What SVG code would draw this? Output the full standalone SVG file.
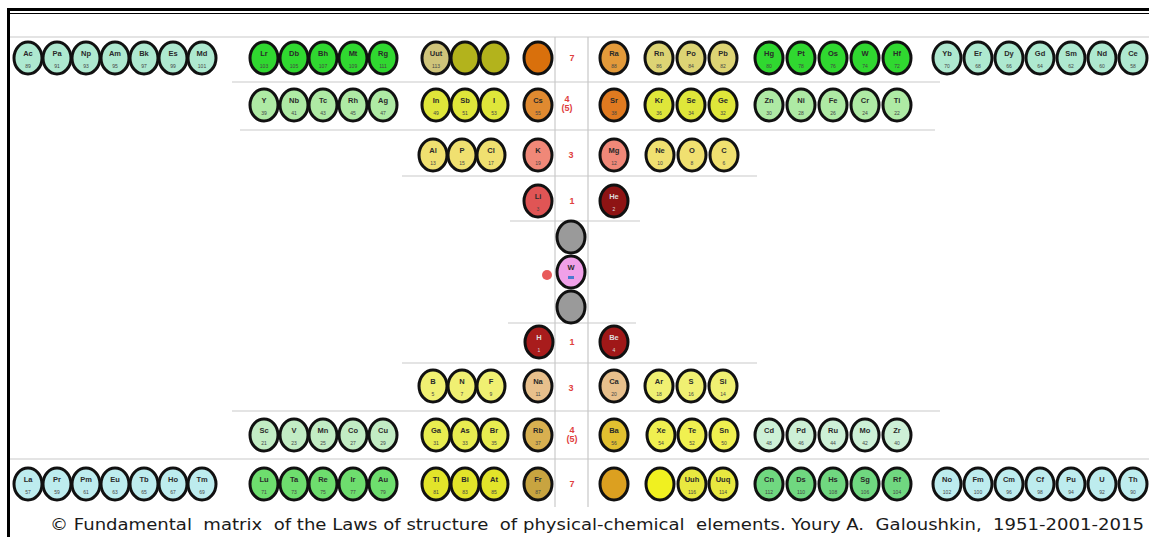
<svg xmlns="http://www.w3.org/2000/svg" width="1149" height="537" viewBox="0 0 1149 537">
<style>
.el ellipse{stroke:#111;stroke-width:3}
.el text{font-family:"Liberation Sans",Arial,sans-serif;font-size:7.5px;font-weight:bold;text-anchor:middle;fill:#2a2a2a}
.el text.z{font-size:5px;font-weight:normal;fill:#444}
.grid line{stroke:#cacaca;stroke-width:1.2}
.vl{stroke:#d8c8d0;stroke-width:1.2}
.num{font-family:"Liberation Sans",Arial,sans-serif;font-size:9px;font-weight:bold;fill:#e04040;text-anchor:middle}
.mint ellipse{fill:#aee9d0}
.grn ellipse{fill:#30d830}
.olv ellipse{fill:#b3b31c}
.olvl ellipse{fill:#cfc47a}
.org ellipse{fill:#d9700c}
.ra ellipse{fill:#e39a3a}
.khk ellipse{fill:#ddd474}
.lg2 ellipse{fill:#aeeaa4}
.lim ellipse{fill:#dfe63a}
.cs ellipse{fill:#e08a30}
.sr ellipse{fill:#e07a20}
.yl3 ellipse{fill:#f0e070}
.sal ellipse{fill:#f08878}
.red ellipse{fill:#e05555}
.dred ellipse{fill:#8e1414}
.gry ellipse{fill:#9a9a9a}
.pnk ellipse{fill:#f0a0e8}
.tan ellipse{fill:#e8c08c}
.yl4 ellipse{fill:#f0f072}
.pg ellipse{fill:#c2ecc4}
.yl5 ellipse{fill:#e8ec50}
.rb ellipse{fill:#d8b050}
.ba ellipse{fill:#e2c030}
.yl6 ellipse{fill:#f0f050}
.pg2 ellipse{fill:#cdf0d6}
.cyn ellipse{fill:#bdecee}
.mg ellipse{fill:#6ede6e}
.yl7 ellipse{fill:#e2e42a}
.fr ellipse{fill:#c8a440}
.gold ellipse{fill:#dca020}
.yl8 ellipse{fill:#f0f020}
.yl9 ellipse{fill:#e8e840}
.mg2 ellipse{fill:#70d880}
.cap{font-family:"DejaVu Sans",Verdana,sans-serif;font-size:15px;fill:#1a1a1a}
</style>
<rect x="0" y="0" width="1149" height="537" fill="#ffffff"/>
<g id="frame">
<line x1="8" y1="9.5" x2="1149" y2="9.5" stroke="#000" stroke-width="3"/>
<line x1="8" y1="13.5" x2="1149" y2="13.5" stroke="#000" stroke-width="1"/>
<line x1="8.5" y1="8" x2="8.5" y2="537" stroke="#000" stroke-width="3"/>
</g>
<g id="connectors" class="grid">
<line x1="10" y1="37" x2="1149" y2="37"/>
<line x1="232" y1="82" x2="940" y2="82"/>
<line x1="240" y1="130" x2="935" y2="130"/>
<line x1="402" y1="176" x2="757" y2="176"/>
<line x1="510" y1="221" x2="640" y2="221"/>
<line x1="508" y1="323" x2="636" y2="323"/>
<line x1="402" y1="363" x2="757" y2="363"/>
<line x1="232" y1="411" x2="940" y2="411"/>
<line x1="10" y1="459" x2="1149" y2="459"/>
<line class="vl" x1="555" y1="37" x2="555" y2="507"/>
<line class="vl" x1="588" y1="37" x2="588" y2="507" style="stroke:#c8c8c8"/>
</g>
<g id="labels">
<text class="num" x="572" y="61">7</text>
<text class="num" x="567" y="102">4</text>
<text class="num" x="567" y="111">(5)</text>
<text class="num" x="571" y="158">3</text>
<text class="num" x="572" y="204">1</text>
<circle cx="547" cy="275" r="5" fill="#e85a5a"/>
<text class="num" x="572" y="345">1</text>
<text class="num" x="571" y="391">3</text>
<text class="num" x="572" y="433">4</text>
<text class="num" x="572" y="442">(5)</text>
<text class="num" x="572" y="487">7</text>
</g>
<g id="e-Ac" class="el mint" transform="translate(28,58)"><ellipse rx="14" ry="16"/><text y="-2">Ac</text><text class="z" y="10">89</text></g>
<g id="e-Pa" class="el mint" transform="translate(57,58)"><ellipse rx="14" ry="16"/><text y="-2">Pa</text><text class="z" y="10">91</text></g>
<g id="e-Np" class="el mint" transform="translate(86,58)"><ellipse rx="14" ry="16"/><text y="-2">Np</text><text class="z" y="10">93</text></g>
<g id="e-Am" class="el mint" transform="translate(115,58)"><ellipse rx="14" ry="16"/><text y="-2">Am</text><text class="z" y="10">95</text></g>
<g id="e-Bk" class="el mint" transform="translate(144,58)"><ellipse rx="14" ry="16"/><text y="-2">Bk</text><text class="z" y="10">97</text></g>
<g id="e-Es" class="el mint" transform="translate(173,58)"><ellipse rx="14" ry="16"/><text y="-2">Es</text><text class="z" y="10">99</text></g>
<g id="e-Md" class="el mint" transform="translate(202,58)"><ellipse rx="14" ry="16"/><text y="-2">Md</text><text class="z" y="10">101</text></g>
<g id="e-Lr" class="el grn" transform="translate(264,58)"><ellipse rx="14" ry="16"/><text y="-2">Lr</text><text class="z" y="10">103</text></g>
<g id="e-Db" class="el grn" transform="translate(294,58)"><ellipse rx="14" ry="16"/><text y="-2">Db</text><text class="z" y="10">105</text></g>
<g id="e-Bh" class="el grn" transform="translate(323,58)"><ellipse rx="14" ry="16"/><text y="-2">Bh</text><text class="z" y="10">107</text></g>
<g id="e-Mt" class="el grn" transform="translate(353,58)"><ellipse rx="14" ry="16"/><text y="-2">Mt</text><text class="z" y="10">109</text></g>
<g id="e-Rg" class="el grn" transform="translate(383,58)"><ellipse rx="14" ry="16"/><text y="-2">Rg</text><text class="z" y="10">111</text></g>
<g id="e-Uut" class="el olvl" transform="translate(436,58)"><ellipse rx="14" ry="16"/><text y="-2">Uut</text><text class="z" y="10">113</text></g>
<g id="e-115" class="el olv" transform="translate(465,58)"><ellipse rx="14" ry="16"/></g>
<g id="e-117" class="el olv" transform="translate(494,58)"><ellipse rx="14" ry="16"/></g>
<g id="e-119" class="el org" transform="translate(538,58)"><ellipse rx="14" ry="16"/></g>
<g id="e-Ra" class="el ra" transform="translate(614,58)"><ellipse rx="14" ry="16"/><text y="-2">Ra</text><text class="z" y="10">88</text></g>
<g id="e-Rn" class="el khk" transform="translate(659,58)"><ellipse rx="14" ry="16"/><text y="-2">Rn</text><text class="z" y="10">86</text></g>
<g id="e-Po" class="el khk" transform="translate(691,58)"><ellipse rx="14" ry="16"/><text y="-2">Po</text><text class="z" y="10">84</text></g>
<g id="e-Pb" class="el khk" transform="translate(723,58)"><ellipse rx="14" ry="16"/><text y="-2">Pb</text><text class="z" y="10">82</text></g>
<g id="e-Hg" class="el grn" transform="translate(769,58)"><ellipse rx="14" ry="16"/><text y="-2">Hg</text><text class="z" y="10">80</text></g>
<g id="e-Pt" class="el grn" transform="translate(801,58)"><ellipse rx="14" ry="16"/><text y="-2">Pt</text><text class="z" y="10">78</text></g>
<g id="e-Os" class="el grn" transform="translate(833,58)"><ellipse rx="14" ry="16"/><text y="-2">Os</text><text class="z" y="10">76</text></g>
<g id="e-W74" class="el grn" transform="translate(865,58)"><ellipse rx="14" ry="16"/><text y="-2">W</text><text class="z" y="10">74</text></g>
<g id="e-Hf" class="el grn" transform="translate(897,58)"><ellipse rx="14" ry="16"/><text y="-2">Hf</text><text class="z" y="10">72</text></g>
<g id="e-Yb" class="el mint" transform="translate(947,58)"><ellipse rx="14" ry="16"/><text y="-2">Yb</text><text class="z" y="10">70</text></g>
<g id="e-Er" class="el mint" transform="translate(978,58)"><ellipse rx="14" ry="16"/><text y="-2">Er</text><text class="z" y="10">68</text></g>
<g id="e-Dy" class="el mint" transform="translate(1009,58)"><ellipse rx="14" ry="16"/><text y="-2">Dy</text><text class="z" y="10">66</text></g>
<g id="e-Gd" class="el mint" transform="translate(1040,58)"><ellipse rx="14" ry="16"/><text y="-2">Gd</text><text class="z" y="10">64</text></g>
<g id="e-Sm" class="el mint" transform="translate(1071,58)"><ellipse rx="14" ry="16"/><text y="-2">Sm</text><text class="z" y="10">62</text></g>
<g id="e-Nd" class="el mint" transform="translate(1102,58)"><ellipse rx="14" ry="16"/><text y="-2">Nd</text><text class="z" y="10">60</text></g>
<g id="e-Ce" class="el mint" transform="translate(1133,58)"><ellipse rx="14" ry="16"/><text y="-2">Ce</text><text class="z" y="10">58</text></g>
<g id="e-Y" class="el lg2" transform="translate(264,105)"><ellipse rx="14" ry="16"/><text y="-2">Y</text><text class="z" y="10">39</text></g>
<g id="e-Nb" class="el lg2" transform="translate(294,105)"><ellipse rx="14" ry="16"/><text y="-2">Nb</text><text class="z" y="10">41</text></g>
<g id="e-Tc" class="el lg2" transform="translate(323,105)"><ellipse rx="14" ry="16"/><text y="-2">Tc</text><text class="z" y="10">43</text></g>
<g id="e-Rh" class="el lg2" transform="translate(353,105)"><ellipse rx="14" ry="16"/><text y="-2">Rh</text><text class="z" y="10">45</text></g>
<g id="e-Ag" class="el lg2" transform="translate(383,105)"><ellipse rx="14" ry="16"/><text y="-2">Ag</text><text class="z" y="10">47</text></g>
<g id="e-In" class="el lim" transform="translate(436,105)"><ellipse rx="14" ry="16"/><text y="-2">In</text><text class="z" y="10">49</text></g>
<g id="e-Sb" class="el lim" transform="translate(465,105)"><ellipse rx="14" ry="16"/><text y="-2">Sb</text><text class="z" y="10">51</text></g>
<g id="e-I" class="el lim" transform="translate(494,105)"><ellipse rx="14" ry="16"/><text y="-2">I</text><text class="z" y="10">53</text></g>
<g id="e-Cs" class="el cs" transform="translate(538,105)"><ellipse rx="14" ry="16"/><text y="-2">Cs</text><text class="z" y="10">55</text></g>
<g id="e-Sr" class="el sr" transform="translate(614,105)"><ellipse rx="14" ry="16"/><text y="-2">Sr</text><text class="z" y="10">38</text></g>
<g id="e-Kr" class="el lim" transform="translate(659,105)"><ellipse rx="14" ry="16"/><text y="-2">Kr</text><text class="z" y="10">36</text></g>
<g id="e-Se" class="el lim" transform="translate(691,105)"><ellipse rx="14" ry="16"/><text y="-2">Se</text><text class="z" y="10">34</text></g>
<g id="e-Ge" class="el lim" transform="translate(723,105)"><ellipse rx="14" ry="16"/><text y="-2">Ge</text><text class="z" y="10">32</text></g>
<g id="e-Zn" class="el lg2" transform="translate(769,105)"><ellipse rx="14" ry="16"/><text y="-2">Zn</text><text class="z" y="10">30</text></g>
<g id="e-Ni" class="el lg2" transform="translate(801,105)"><ellipse rx="14" ry="16"/><text y="-2">Ni</text><text class="z" y="10">28</text></g>
<g id="e-Fe" class="el lg2" transform="translate(833,105)"><ellipse rx="14" ry="16"/><text y="-2">Fe</text><text class="z" y="10">26</text></g>
<g id="e-Cr" class="el lg2" transform="translate(865,105)"><ellipse rx="14" ry="16"/><text y="-2">Cr</text><text class="z" y="10">24</text></g>
<g id="e-Ti" class="el lg2" transform="translate(897,105)"><ellipse rx="14" ry="16"/><text y="-2">Ti</text><text class="z" y="10">22</text></g>
<g id="e-Al" class="el yl3" transform="translate(433,155)"><ellipse rx="14" ry="16"/><text y="-2">Al</text><text class="z" y="10">13</text></g>
<g id="e-P" class="el yl3" transform="translate(462,155)"><ellipse rx="14" ry="16"/><text y="-2">P</text><text class="z" y="10">15</text></g>
<g id="e-Cl" class="el yl3" transform="translate(491,155)"><ellipse rx="14" ry="16"/><text y="-2">Cl</text><text class="z" y="10">17</text></g>
<g id="e-K" class="el sal" transform="translate(538,155)"><ellipse rx="14" ry="16"/><text y="-2">K</text><text class="z" y="10">19</text></g>
<g id="e-Mg" class="el sal" transform="translate(614,155)"><ellipse rx="14" ry="16"/><text y="-2">Mg</text><text class="z" y="10">12</text></g>
<g id="e-Ne" class="el yl3" transform="translate(660,155)"><ellipse rx="14" ry="16"/><text y="-2">Ne</text><text class="z" y="10">10</text></g>
<g id="e-O" class="el yl3" transform="translate(692,155)"><ellipse rx="14" ry="16"/><text y="-2">O</text><text class="z" y="10">8</text></g>
<g id="e-C" class="el yl3" transform="translate(724,155)"><ellipse rx="14" ry="16"/><text y="-2">C</text><text class="z" y="10">6</text></g>
<g id="e-Li" class="el red" transform="translate(538,201)"><ellipse rx="14" ry="16"/><text y="-2">Li</text><text class="z" y="10">3</text></g>
<g id="e-He" class="el dred" transform="translate(614,201)"><ellipse rx="14" ry="16"/><text y="-2" style="fill:#ddd">He</text><text class="z" y="10" style="fill:#ddd">2</text></g>
<g id="e-g1" class="el gry" transform="translate(571,237)"><ellipse rx="14" ry="16"/></g>
<g id="e-Wc" class="el pnk" transform="translate(571,272)"><ellipse rx="14" ry="16"/><text y="-2">W</text><rect x="-3" y="4" width="6" height="3" fill="#4a7ad0"/></g>
<g id="e-g2" class="el gry" transform="translate(571,307)"><ellipse rx="14" ry="16"/></g>
<g id="e-H" class="el dred" transform="translate(539,342)"><ellipse rx="14" ry="16" style="fill:#a81c1c"/><text y="-2" style="fill:#ddd">H</text><text class="z" y="10" style="fill:#ddd">1</text></g>
<g id="e-Be" class="el dred" transform="translate(614,342)"><ellipse rx="14" ry="16" style="fill:#a01818"/><text y="-2" style="fill:#ddd">Be</text><text class="z" y="10" style="fill:#ddd">4</text></g>
<g id="e-B" class="el yl4" transform="translate(433,386)"><ellipse rx="14" ry="16"/><text y="-2">B</text><text class="z" y="10">5</text></g>
<g id="e-N" class="el yl4" transform="translate(462,386)"><ellipse rx="14" ry="16"/><text y="-2">N</text><text class="z" y="10">7</text></g>
<g id="e-F" class="el yl4" transform="translate(491,386)"><ellipse rx="14" ry="16"/><text y="-2">F</text><text class="z" y="10">9</text></g>
<g id="e-Na" class="el tan" transform="translate(538,386)"><ellipse rx="14" ry="16"/><text y="-2">Na</text><text class="z" y="10">11</text></g>
<g id="e-Ca" class="el tan" transform="translate(614,386)"><ellipse rx="14" ry="16"/><text y="-2">Ca</text><text class="z" y="10">20</text></g>
<g id="e-Ar" class="el yl4" transform="translate(659,386)"><ellipse rx="14" ry="16"/><text y="-2">Ar</text><text class="z" y="10">18</text></g>
<g id="e-S" class="el yl4" transform="translate(691,386)"><ellipse rx="14" ry="16"/><text y="-2">S</text><text class="z" y="10">16</text></g>
<g id="e-Si" class="el yl4" transform="translate(723,386)"><ellipse rx="14" ry="16"/><text y="-2">Si</text><text class="z" y="10">14</text></g>
<g id="e-Sc" class="el pg" transform="translate(264,435)"><ellipse rx="14" ry="16"/><text y="-2">Sc</text><text class="z" y="10">21</text></g>
<g id="e-V" class="el pg" transform="translate(294,435)"><ellipse rx="14" ry="16"/><text y="-2">V</text><text class="z" y="10">23</text></g>
<g id="e-Mn" class="el pg" transform="translate(323,435)"><ellipse rx="14" ry="16"/><text y="-2">Mn</text><text class="z" y="10">25</text></g>
<g id="e-Co" class="el pg" transform="translate(353,435)"><ellipse rx="14" ry="16"/><text y="-2">Co</text><text class="z" y="10">27</text></g>
<g id="e-Cu" class="el pg" transform="translate(383,435)"><ellipse rx="14" ry="16"/><text y="-2">Cu</text><text class="z" y="10">29</text></g>
<g id="e-Ga" class="el yl5" transform="translate(436,435)"><ellipse rx="14" ry="16"/><text y="-2">Ga</text><text class="z" y="10">31</text></g>
<g id="e-As" class="el yl5" transform="translate(465,435)"><ellipse rx="14" ry="16"/><text y="-2">As</text><text class="z" y="10">33</text></g>
<g id="e-Br" class="el yl5" transform="translate(494,435)"><ellipse rx="14" ry="16"/><text y="-2">Br</text><text class="z" y="10">35</text></g>
<g id="e-Rb" class="el rb" transform="translate(538,435)"><ellipse rx="14" ry="16"/><text y="-2">Rb</text><text class="z" y="10">37</text></g>
<g id="e-Ba" class="el ba" transform="translate(614,435)"><ellipse rx="14" ry="16"/><text y="-2">Ba</text><text class="z" y="10">56</text></g>
<g id="e-Xe" class="el yl6" transform="translate(661,435)"><ellipse rx="14" ry="16"/><text y="-2">Xe</text><text class="z" y="10">54</text></g>
<g id="e-Te" class="el yl6" transform="translate(692,435)"><ellipse rx="14" ry="16"/><text y="-2">Te</text><text class="z" y="10">52</text></g>
<g id="e-Sn" class="el yl6" transform="translate(724,435)"><ellipse rx="14" ry="16"/><text y="-2">Sn</text><text class="z" y="10">50</text></g>
<g id="e-Cd" class="el pg2" transform="translate(769,435)"><ellipse rx="14" ry="16"/><text y="-2">Cd</text><text class="z" y="10">48</text></g>
<g id="e-Pd" class="el pg2" transform="translate(801,435)"><ellipse rx="14" ry="16"/><text y="-2">Pd</text><text class="z" y="10">46</text></g>
<g id="e-Ru" class="el pg2" transform="translate(833,435)"><ellipse rx="14" ry="16"/><text y="-2">Ru</text><text class="z" y="10">44</text></g>
<g id="e-Mo" class="el pg2" transform="translate(865,435)"><ellipse rx="14" ry="16"/><text y="-2">Mo</text><text class="z" y="10">42</text></g>
<g id="e-Zr" class="el pg2" transform="translate(897,435)"><ellipse rx="14" ry="16"/><text y="-2">Zr</text><text class="z" y="10">40</text></g>
<g id="e-La" class="el cyn" transform="translate(28,484)"><ellipse rx="14" ry="16"/><text y="-2">La</text><text class="z" y="10">57</text></g>
<g id="e-Pr" class="el cyn" transform="translate(57,484)"><ellipse rx="14" ry="16"/><text y="-2">Pr</text><text class="z" y="10">59</text></g>
<g id="e-Pm" class="el cyn" transform="translate(86,484)"><ellipse rx="14" ry="16"/><text y="-2">Pm</text><text class="z" y="10">61</text></g>
<g id="e-Eu" class="el cyn" transform="translate(115,484)"><ellipse rx="14" ry="16"/><text y="-2">Eu</text><text class="z" y="10">63</text></g>
<g id="e-Tb" class="el cyn" transform="translate(144,484)"><ellipse rx="14" ry="16"/><text y="-2">Tb</text><text class="z" y="10">65</text></g>
<g id="e-Ho" class="el cyn" transform="translate(173,484)"><ellipse rx="14" ry="16"/><text y="-2">Ho</text><text class="z" y="10">67</text></g>
<g id="e-Tm" class="el cyn" transform="translate(202,484)"><ellipse rx="14" ry="16"/><text y="-2">Tm</text><text class="z" y="10">69</text></g>
<g id="e-Lu" class="el mg" transform="translate(264,484)"><ellipse rx="14" ry="16"/><text y="-2">Lu</text><text class="z" y="10">71</text></g>
<g id="e-Ta" class="el mg" transform="translate(294,484)"><ellipse rx="14" ry="16"/><text y="-2">Ta</text><text class="z" y="10">73</text></g>
<g id="e-Re" class="el mg" transform="translate(323,484)"><ellipse rx="14" ry="16"/><text y="-2">Re</text><text class="z" y="10">75</text></g>
<g id="e-Ir" class="el mg" transform="translate(353,484)"><ellipse rx="14" ry="16"/><text y="-2">Ir</text><text class="z" y="10">77</text></g>
<g id="e-Au" class="el mg" transform="translate(383,484)"><ellipse rx="14" ry="16"/><text y="-2">Au</text><text class="z" y="10">79</text></g>
<g id="e-Tl" class="el yl7" transform="translate(436,484)"><ellipse rx="14" ry="16"/><text y="-2">Tl</text><text class="z" y="10">81</text></g>
<g id="e-Bi" class="el yl7" transform="translate(465,484)"><ellipse rx="14" ry="16"/><text y="-2">Bi</text><text class="z" y="10">83</text></g>
<g id="e-At" class="el yl7" transform="translate(494,484)"><ellipse rx="14" ry="16"/><text y="-2">At</text><text class="z" y="10">85</text></g>
<g id="e-Fr" class="el fr" transform="translate(538,484)"><ellipse rx="14" ry="16"/><text y="-2">Fr</text><text class="z" y="10">87</text></g>
<g id="e-120" class="el gold" transform="translate(614,484)"><ellipse rx="14" ry="16"/></g>
<g id="e-118" class="el yl8" transform="translate(660,484)"><ellipse rx="14" ry="16"/></g>
<g id="e-Uuh" class="el yl9" transform="translate(692,484)"><ellipse rx="14" ry="16"/><text y="-2">Uuh</text><text class="z" y="10">116</text></g>
<g id="e-Uuq" class="el yl9" transform="translate(723,484)"><ellipse rx="14" ry="16"/><text y="-2">Uuq</text><text class="z" y="10">114</text></g>
<g id="e-Cn" class="el mg2" transform="translate(769,484)"><ellipse rx="14" ry="16"/><text y="-2">Cn</text><text class="z" y="10">112</text></g>
<g id="e-Ds" class="el mg2" transform="translate(801,484)"><ellipse rx="14" ry="16"/><text y="-2">Ds</text><text class="z" y="10">110</text></g>
<g id="e-Hs" class="el mg2" transform="translate(833,484)"><ellipse rx="14" ry="16"/><text y="-2">Hs</text><text class="z" y="10">108</text></g>
<g id="e-Sg" class="el mg2" transform="translate(865,484)"><ellipse rx="14" ry="16"/><text y="-2">Sg</text><text class="z" y="10">106</text></g>
<g id="e-Rf" class="el mg2" transform="translate(897,484)"><ellipse rx="14" ry="16"/><text y="-2">Rf</text><text class="z" y="10">104</text></g>
<g id="e-No" class="el cyn" transform="translate(947,484)"><ellipse rx="14" ry="16"/><text y="-2">No</text><text class="z" y="10">102</text></g>
<g id="e-Fm" class="el cyn" transform="translate(978,484)"><ellipse rx="14" ry="16"/><text y="-2">Fm</text><text class="z" y="10">100</text></g>
<g id="e-Cm" class="el cyn" transform="translate(1009,484)"><ellipse rx="14" ry="16"/><text y="-2">Cm</text><text class="z" y="10">96</text></g>
<g id="e-Cf" class="el cyn" transform="translate(1040,484)"><ellipse rx="14" ry="16"/><text y="-2">Cf</text><text class="z" y="10">98</text></g>
<g id="e-Pu" class="el cyn" transform="translate(1071,484)"><ellipse rx="14" ry="16"/><text y="-2">Pu</text><text class="z" y="10">94</text></g>
<g id="e-U" class="el cyn" transform="translate(1102,484)"><ellipse rx="14" ry="16"/><text y="-2">U</text><text class="z" y="10">92</text></g>
<g id="e-Th" class="el cyn" transform="translate(1133,484)"><ellipse rx="14" ry="16"/><text y="-2">Th</text><text class="z" y="10">90</text></g>
<text id="caption" class="cap" x="50" y="530" textLength="1094" lengthAdjust="spacingAndGlyphs" xml:space="preserve">© Fundamental  matrix  of the Laws of structure  of physical-chemical  elements. Youry A.  Galoushkin,  1951-2001-2015</text>
</svg>
